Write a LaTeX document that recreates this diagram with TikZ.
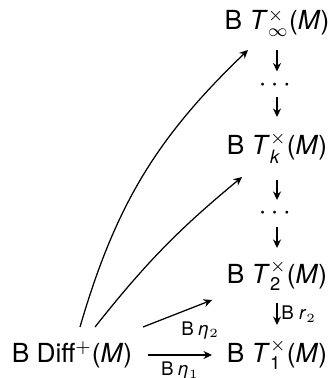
\documentclass[tikz,border=0pt]{standalone}
\usepackage{amsmath}
\usepackage{fontspec}
\setmainfont{TeX Gyre Heros}
\usetikzlibrary{arrows.meta, positioning, calc}

% torus-trick tower labels
\newcommand{\Tx}[1]{\textit{T}$^{\times}_{\text{#1}}$(\textit{M})}

\begin{document}
\begin{tikzpicture}[x=0.4pt, y=-0.4pt, font=\fontsize{10.5}{12.6}\selectfont,
  >={Stealth[length=3.4pt,width=3.2pt]}, line width=0.5pt,
  every node/.style={anchor=base},
  lbl/.style={font=\fontsize{7.5}{9}\selectfont, inner sep=1.5pt}]
  \useasboundingbox (0,0) rectangle (327,378);
  % Tower on the right (placed on baselines)
  \node (tinf) at (277,30) {B \Tx{$\infty$}};
  \node (dots1) at (277,91.5) {$\cdots$};
  \node (tk) at (277,155) {B \Tx{\textit{k}}};
  \node (dots2) at (277,219.5) {$\cdots$};
  \node (t2) at (277,283) {B \Tx{2}};
  \node (t1) at (277,362) {B \Tx{1}};
  % Source
  \node (diff) at (72,362) {B Diff$^+$(\textit{M})};
  % Vertical maps
  \draw[->] ($(tinf.base)+(0,20)$) -- ($(dots1.base)+(0,-20)$);
  \draw[->] ($(dots1.base)+(0,5.5)$) -- ($(tk.base)+(0,-38)$);
  \draw[->] ($(tk.base)+(0,25)$) -- ($(dots2.base)+(0,-19.5)$);
  \draw[->] ($(dots2.base)+(0,7.5)$) -- ($(t2.base)+(0,-35)$);
  \draw[->] ($(t2.base)+(0,20)$) -- node[lbl, anchor=west] {B \textit{r}$_2$} ($(t1.base)+(0,-37)$);
  % Maps out of B Diff
  \draw[->] ($(diff.base)+(76,-7)$) -- node[lbl, anchor=north, yshift=-1pt] {B \textit{η}$_1$} ($(t1.base)+(-65,-7)$);
  \draw[->] ($(diff.base)+(71,-35)$) -- node[lbl, anchor=north, pos=0.83, yshift=-5pt] {B \textit{η}$_2$} ($(t2.base)+(-65,17)$);
  \draw[->] ($(diff.base)+(23,-35)$) to[bend left=6] ($(tk.base)+(-35,22)$);
  \draw[->] ($(diff.base)+(8,-35)$) to[bend left=15] ($(tinf.base)+(-29,20)$);
\end{tikzpicture}
\end{document}
